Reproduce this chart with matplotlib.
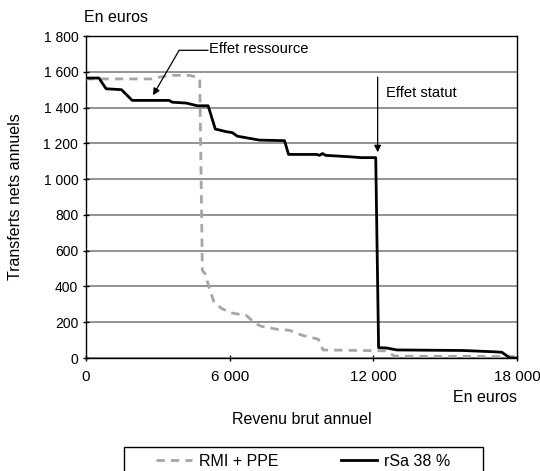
import matplotlib
matplotlib.use("Agg")
import matplotlib.pyplot as plt
from matplotlib.ticker import FuncFormatter
from matplotlib.patches import Rectangle

plt.rcParams['font.family'] = ['Liberation Sans', 'DejaVu Sans']

# RMI + PPE (gray dashed)
rmi_x = [0, 2700, 3450, 4300, 4650, 4750, 4860, 4980, 5150, 5360, 5700, 6110, 6700,
         7000, 7300, 8000, 8500, 9000, 9300, 9700, 9900, 12500, 12900, 18000]
rmi_y = [1560, 1560, 1580, 1580, 1570, 1560, 490, 470, 390, 307, 274, 251, 238,
         200, 178, 160, 155, 128, 118, 105, 45, 40, 10, 8]

# rSa 38 % (black solid)
rsa_x = [0, 540, 840, 1480, 1930, 3470, 3600, 4190, 4650, 5100, 5400, 5860, 6110,
         6320, 7240, 8290, 8460, 9630, 9750, 9880, 10000, 11000, 11500, 12100,
         12220, 12550, 12980, 15740, 17000, 17370, 17700, 18000]
rsa_y = [1565, 1565, 1505, 1500, 1440, 1440, 1430, 1425, 1410, 1410, 1280, 1265, 1260,
         1240, 1218, 1215, 1138, 1138, 1133, 1143, 1133, 1125, 1120, 1120,
         58, 56, 45, 42, 35, 32, 0, 0]

x_ticks = [0, 6000, 12000, 18000]
y_ticks = list(range(0, 1801, 200))

def fmt(v, pos=None):
    return f"{int(v):,}".replace(",", " ")

fig = plt.figure(figsize=(5.4, 4.71), dpi=100)
ax = fig.add_axes([86/540, 1-358/471, (517-86)/540, (358-36)/471])

ax.plot(rmi_x, rmi_y, color='#a6a6a6', lw=2.0, ls=(0, (3, 2.2)), label='RMI + PPE', zorder=3)
ax.plot(rsa_x, rsa_y, color='black', lw=2.0, label='rSa 38 %', zorder=4)

ax.set_xlim(0, 18000)
ax.set_ylim(0, 1800)
ax.set_xticks(x_ticks)
ax.set_yticks(y_ticks)
ax.xaxis.set_major_formatter(FuncFormatter(fmt))
ax.yaxis.set_major_formatter(FuncFormatter(fmt))
ax.tick_params(axis='both', direction='inout', length=5, width=1, colors='black')
ax.tick_params(axis='x', pad=6, labelsize=11)
ax.tick_params(axis='y', pad=3, labelsize=10)
ax.grid(axis='y', color='#808080', lw=1.2, zorder=1)
ax.set_axisbelow(True)
for s in ax.spines.values():
    s.set_color('black')
    s.set_linewidth(1.0)

# annotations
ax.annotate('', xy=(3890, 1720), xytext=(5100, 1720),
            arrowprops=dict(arrowstyle='-', color='black', lw=0.9, shrinkA=0, shrinkB=0))
ax.annotate('', xy=(2800, 1469), xytext=(3890, 1720),
            arrowprops=dict(arrowstyle='-|>', color='black', lw=0.9, mutation_scale=10,
                            shrinkA=0, shrinkB=0))
ax.text(5150, 1726, 'Effet ressource', fontsize=10.6, va='center', ha='left')

ax.annotate('', xy=(12180, 1150), xytext=(12180, 1570),
            arrowprops=dict(arrowstyle='-|>', color='black', lw=0.9, mutation_scale=10,
                            shrinkA=0, shrinkB=0))
ax.text(12520, 1480, 'Effet statut', fontsize=10.6, va='center', ha='left')

fig.text(84/540, 1-18/471, 'En euros', fontsize=11.5, ha='left', va='center')
fig.text(517/540, 1-398/471, 'En euros', fontsize=11.5, ha='right', va='center')
fig.text(302/540, 1-420/471, 'Revenu brut annuel', fontsize=11.5, ha='center', va='center')
fig.text(16/540, 1-197/471, 'Transferts nets annuels', fontsize=11.5, ha='center', va='center',
         rotation=90)

# legend frame (extends past the bottom edge as in the reference)
fig.patches.append(Rectangle((124/540, -0.05), (483-124)/540, (1-447/471) + 0.05,
                             transform=fig.transFigure, facecolor='none',
                             edgecolor='black', lw=1.0))
leg = fig.legend(loc='center left', bbox_to_anchor=(156/540, 1-461/471), ncol=2,
                 frameon=False, fontsize=11.5, borderpad=0, borderaxespad=0,
                 handlelength=2.25, columnspacing=3.9, handletextpad=0.45)

fig.savefig('out.png', dpi=100)
